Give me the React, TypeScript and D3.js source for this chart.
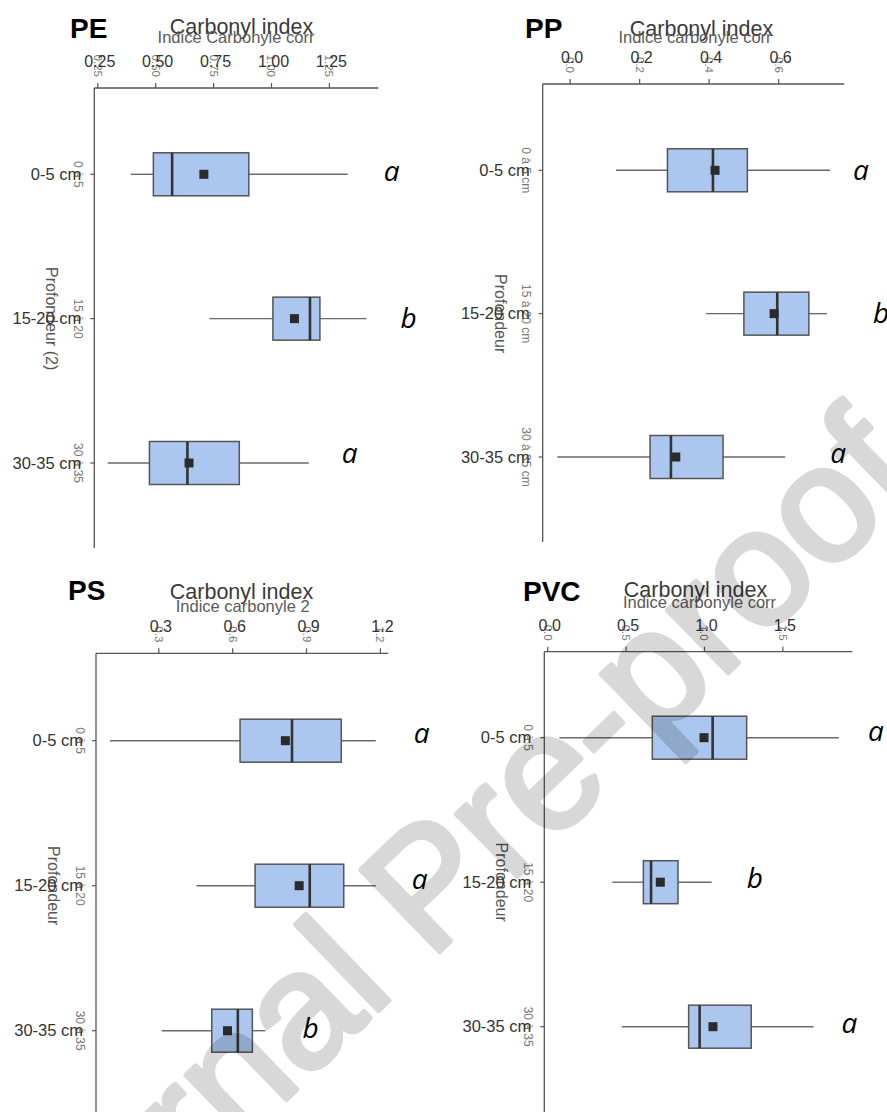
import React from 'react';
import * as d3 from 'd3';

// ---------- data ----------
const categories = ['0-5 cm', '15-20 cm', '30-35 cm'];
const smallCatLabels = ['0 à 5', '15 à 20', '30 à 35'];
const smallCatLabelsPP = ['0 à 5 cm', '15 à 20 cm', '30 à 35 cm'];

// PE
const peLow = [0.392, 0.732, 0.293];
const peQ1 = [0.49, 1.006, 0.473];
const peMedian = [0.571, 1.166, 0.637];
const peQ3 = [0.902, 1.209, 0.861];
const peHigh = [1.329, 1.41, 1.161];
const peMean = [0.708, 1.099, 0.644];
const peLetters = ['a', 'b', 'a'];
const peTicks = [0.25, 0.5, 0.75, 1.0, 1.25];
const peTickLabels = ['0.25', '0.50', '0.75', '1.00', '1.25'];

// PP
const ppLow = [0.132, 0.391, -0.037];
const ppQ1 = [0.28, 0.5, 0.23];
const ppMedian = [0.411, 0.596, 0.29];
const ppQ3 = [0.51, 0.687, 0.44];
const ppHigh = [0.748, 0.739, 0.619];
const ppMean = [0.417, 0.587, 0.304];
const ppLetters = ['a', 'b', 'a'];
const ppTicks = [0.0, 0.2, 0.4, 0.6];
const ppTickLabels = ['0.0', '0.2', '0.4', '0.6'];

// PS
const psLow = [0.102, 0.453, 0.312];
const psQ1 = [0.63, 0.691, 0.515];
const psMedian = [0.841, 0.913, 0.621];
const psQ3 = [1.041, 1.051, 0.68];
const psHigh = [1.181, 1.181, 0.733];
const psMean = [0.814, 0.87, 0.579];
const psLetters = ['a', 'a', 'b'];
const psTicks = [0.3, 0.6, 0.9, 1.2];
const psTickLabels = ['0.3', '0.6', '0.9', '1.2'];

// PVC
const pvcLow = [0.074, 0.412, 0.472];
const pvcQ1 = [0.667, 0.61, 0.899];
const pvcMedian = [1.052, 0.659, 0.969];
const pvcQ3 = [1.269, 0.831, 1.298];
const pvcHigh = [1.858, 1.046, 1.696];
const pvcMean = [0.997, 0.718, 1.054];
const pvcLetters = ['a', 'b', 'a'];
const pvcTicks = [0.0, 0.5, 1.0, 1.5];
const pvcTickLabels = ['0.0', '0.5', '1.0', '1.5'];

// ---------- layout ----------
const layouts = {
  PE: { x0: 94.3, x1: 378.3, dom: [0.235, 1.461], axisY: 88, bottom: 548, cat0: 174.3, cat2: 463,
    labelX: 70, labelY: 38, titleX: 241.5, titleY: 34, subX: 236, subY: 42.5,
    letterDx: [36, 34, 33], letterDy: [6.5, 9.3, 0] },
  PP: { x0: 542.7, x1: 844.3, dom: [-0.079, 0.789], axisY: 84, bottom: 541.7, cat0: 170.3, cat2: 457,
    labelX: 525, labelY: 38, titleX: 701.5, titleY: 35.5, subX: 695, subY: 43.3,
    letterDx: [23, 46, 45], letterDy: [9.7, 9.3, 6.3] },
  PS: { x0: 96, x1: 388.3, dom: [0.045, 1.232], axisY: 653.3, bottom: 1112, cat0: 740.7, cat2: 1030.7,
    labelX: 68, labelY: 600, titleX: 241.5, titleY: 598.5, subX: 242.7, subY: 611.7,
    letterDx: [38, 36, 37], letterDy: [2.6, 3.6, 7.6] },
  PVC: { x0: 544.3, x1: 852.3, dom: [-0.022, 1.943], axisY: 651.7, bottom: 1112, cat0: 737.7, cat2: 1026.7,
    labelX: 523, labelY: 601, titleX: 695.5, titleY: 597, subX: 699.5, subY: 608,
    letterDx: [29, 35, 28], letterDy: [3, 6, 6] },
};

const panels = [
  { name: 'PE', sub: 'Indice Carbonyle corr', yTitle: 'Profondeur (2)', small: smallCatLabels,
    low: peLow, q1: peQ1, med: peMedian, q3: peQ3, high: peHigh, mean: peMean, letters: peLetters,
    ticks: peTicks, tickLabels: peTickLabels },
  { name: 'PP', sub: 'Indice carbonyle corr', yTitle: 'Profondeur', small: smallCatLabelsPP,
    low: ppLow, q1: ppQ1, med: ppMedian, q3: ppQ3, high: ppHigh, mean: ppMean, letters: ppLetters,
    ticks: ppTicks, tickLabels: ppTickLabels },
  { name: 'PS', sub: 'Indice carbonyle 2', yTitle: 'Profondeur', small: smallCatLabels,
    low: psLow, q1: psQ1, med: psMedian, q3: psQ3, high: psHigh, mean: psMean, letters: psLetters,
    ticks: psTicks, tickLabels: psTickLabels },
  { name: 'PVC', sub: 'Indice carbonyle corr', yTitle: 'Profondeur', small: smallCatLabels,
    low: pvcLow, q1: pvcQ1, med: pvcMedian, q3: pvcQ3, high: pvcHigh, mean: pvcMean, letters: pvcLetters,
    ticks: pvcTicks, tickLabels: pvcTickLabels },
];

const FONT = "'Liberation Sans', Arial, sans-serif";
const BOX_H = 43;
const MEAN_S = 9;

function Panel({ p }: { p: any }) {
  const L = (layouts as any)[p.name];
  const x = d3.scaleLinear().domain(L.dom).range([L.x0, L.x1]);
  const y = d3.scalePoint<string>().domain(categories).range([L.cat0, L.cat2]);
  const midY = y(categories[1]) as number;
  return (
    <g>
      {/* headers */}
      <text x={L.labelX} y={L.labelY} fontFamily={FONT} fontWeight="bold" fontSize={28} fill="#000">{p.name}</text>
      <text x={L.titleX} y={L.titleY} textAnchor="middle" fontFamily={FONT} fontSize={21.5} fill="#3a3a3a">Carbonyl index</text>
      <text x={L.subX} y={L.subY} textAnchor="middle" fontFamily={FONT} fontSize={16.5} fill="#5a5a5a">{p.sub}</text>

      {/* top axis */}
      <line x1={L.x0} x2={L.x1} y1={L.axisY} y2={L.axisY} stroke="#555" strokeWidth={1.3} />
      {p.ticks.map((t: number, i: number) => (
        <g key={i}>
          <line x1={x(t)} x2={x(t)} y1={L.axisY} y2={L.axisY - 5} stroke="#555" strokeWidth={1.2} />
          <text transform={`translate(${x(t)},${L.axisY - 11}) rotate(90)`} textAnchor="end" dy="0.35em"
            fontFamily={FONT} fontSize={11.5} fill="#777">{p.tickLabels[i]}</text>
          <text x={x(t) + 2} y={L.axisY - 21} textAnchor="middle" fontFamily={FONT} fontSize={16} fill="#333">{p.tickLabels[i]}</text>
        </g>
      ))}

      {/* left axis */}
      <line x1={L.x0} x2={L.x0} y1={L.axisY} y2={L.bottom} stroke="#555" strokeWidth={1.3} />
      <text transform={`translate(${L.x0 - 42.5},${midY}) rotate(90)`} textAnchor="middle" dy="0.35em"
        fontFamily={FONT} fontSize={16} fill="#555">{p.yTitle}</text>
      {categories.map((c, i) => {
        const cy = y(c) as number;
        return (
          <g key={c}>
            <line x1={L.x0 - 4} x2={L.x0} y1={cy} y2={cy} stroke="#555" strokeWidth={1.2} />
            <text transform={`translate(${L.x0 - 16},${cy}) rotate(90)`} textAnchor="middle" dy="0.35em"
              fontFamily={FONT} fontSize={12} fill="#777">{p.small[i]}</text>
            <text x={L.x0 - 13} y={cy} textAnchor="end" dy="0.35em" fontFamily={FONT} fontSize={16.5} fill="#333">{c}</text>
          </g>
        );
      })}

      {/* boxes */}
      {categories.map((c, i) => {
        const cy = y(c) as number;
        return (
          <g key={'b' + c}>
            <line x1={x(p.low[i])} x2={x(p.q1[i])} y1={cy} y2={cy} stroke="#6a6a6a" strokeWidth={1.4} />
            <line x1={x(p.q3[i])} x2={x(p.high[i])} y1={cy} y2={cy} stroke="#6a6a6a" strokeWidth={1.4} />
            <rect x={x(p.q1[i])} y={cy - BOX_H / 2} width={x(p.q3[i]) - x(p.q1[i])} height={BOX_H}
              fill="#abc7ef" stroke="#555" strokeWidth={1.5} />
            <line x1={x(p.med[i])} x2={x(p.med[i])} y1={cy - BOX_H / 2} y2={cy + BOX_H / 2} stroke="#333" strokeWidth={2.6} />
            <rect x={x(p.mean[i]) - MEAN_S / 2} y={cy - MEAN_S / 2} width={MEAN_S} height={MEAN_S} fill="#2b2b2b" />
            <text x={x(p.high[i]) + L.letterDx[i]} y={cy + L.letterDy[i]} fontFamily="'Open Sans', sans-serif"
              fontStyle="italic" fontSize={28} fill="#000">{p.letters[i]}</text>
          </g>
        );
      })}
    </g>
  );
}

export default function App() {
  return (
    <svg width={887} height={1112} style={{ position: 'absolute', left: 0, top: 0, background: '#fff' }}>
      <rect width={887} height={1112} fill="#fff" />
      {panels.map((p) => <Panel key={p.name} p={p} />)}
      <g opacity={0.15}>
        <text transform="translate(466,926) rotate(-44)" textAnchor="middle" fontFamily={FONT}
          fontSize={165} fill="#000" stroke="#000" strokeWidth={5} strokeLinejoin="round">Journal Pre-proof</text>
      </g>
    </svg>
  );
}
